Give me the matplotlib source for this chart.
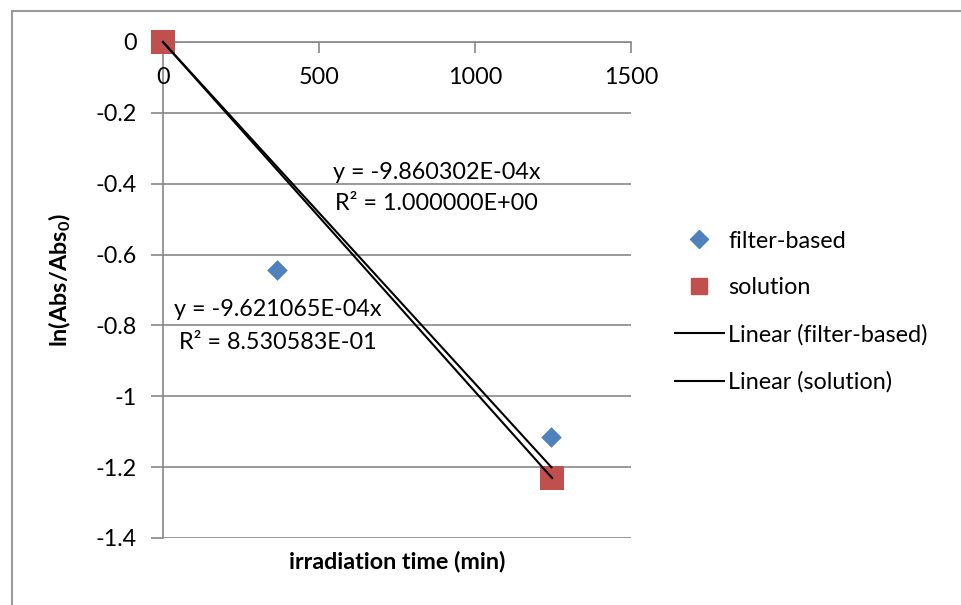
import numpy as np
import matplotlib
matplotlib.use("Agg")
import matplotlib.pyplot as plt
from matplotlib.lines import Line2D

plt.rcParams['font.family'] = ['Lato', 'DejaVu Sans']
plt.rcParams['mathtext.fontset'] = 'custom'
plt.rcParams['mathtext.rm'] = 'Lato'
plt.rcParams['mathtext.bf'] = 'Lato:bold'

# data
filter_time = [0, 365, 1245]
filter_lnabs = [0, -0.643, -1.115]
solution_time = [0, 1247]
solution_lnabs = [0, -1.2306]

filter_eq = ["y = -9.621065E-04x", "R\u00b2 = 8.530583E-01"]
solution_eq = ["y = -9.860302E-04x", "R\u00b2 = 1.000000E+00"]

x_ticks = [0, 500, 1000, 1500]
y_ticks = [0, -0.2, -0.4, -0.6, -0.8, -1, -1.2, -1.4]

FS = 16.8


def slope_through_origin(x, y):
    x = np.asarray(x, float)
    y = np.asarray(y, float)
    return (x * y).sum() / (x * x).sum()


W, H = 962, 605
fig = plt.figure(figsize=(W / 100, H / 100), dpi=100)
ax = fig.add_axes([163 / W, 1 - 538 / H, (631 - 163) / W, (538 - 42) / H])

grid_c = '#878787'
ax.set_xlim(0, 1500)
ax.set_ylim(-1.4, 0)
ax.set_yticks(y_ticks)
ax.set_yticklabels(['0', '-0.2', '-0.4', '-0.6', '-0.8', '-1', '-1.2', '-1.4'])
ax.set_xticks(x_ticks)
ax.grid(axis='y', color=grid_c, lw=1.2)
ax.set_axisbelow(True)

for s in ['right', 'bottom']:
    ax.spines[s].set_visible(False)
ax.spines['top'].set_color(grid_c)
ax.spines['left'].set_color(grid_c)
ax.spines['top'].set_linewidth(1.2)
ax.spines['left'].set_linewidth(1.2)

ax.xaxis.set_ticks_position('top')
ax.tick_params(axis='x', direction='in', length=8, color=grid_c, width=1.2,
               labeltop=False, labelbottom=False)
ax.tick_params(axis='y', direction='out', length=9, color=grid_c, width=1.2,
               labelsize=FS, pad=10)
for xt in x_ticks:
    ax.text(xt, -0.1, str(xt), ha='center', va='center', fontsize=FS)

# trendlines through origin
fs = slope_through_origin(filter_time, filter_lnabs)
ss = slope_through_origin(solution_time, solution_lnabs)
xf = np.array([0, max(filter_time)])
xs = np.array([0, max(solution_time)])
ax.plot(xf, fs * xf, color='black', lw=1.5, zorder=6, clip_on=False)
ax.plot(xs, ss * xs, color='black', lw=1.5, zorder=6, clip_on=False)

ax.scatter(filter_time, filter_lnabs, marker='D', s=110, color='#4f81bd',
           zorder=4, linewidths=0, clip_on=False)
ax.scatter(solution_time, solution_lnabs, marker='s', s=300, color='#c0504d',
           zorder=5, linewidths=0, clip_on=False)

ax.text(878, -0.367, solution_eq[0], ha='center', va='center', fontsize=FS)
ax.text(878, -0.455, solution_eq[1], ha='center', va='center', fontsize=FS)
ax.text(367, -0.756, filter_eq[0], ha='center', va='center', fontsize=FS)
ax.text(367, -0.847, filter_eq[1], ha='center', va='center', fontsize=FS)

ax.set_xlabel('irradiation time (min)', fontsize=FS, fontweight='bold')
ax.xaxis.set_label_coords(0.5, -0.025)
ax.set_ylabel('ln(Abs/Abs$_\\mathbf{0}$)', fontsize=FS, fontweight='bold')
ax.yaxis.set_label_coords((73 - 163) / (631 - 163), 0.52)

handles = [
    Line2D([], [], marker='D', ls='none', color='#4f81bd', markersize=9),
    Line2D([], [], marker='s', ls='none', color='#c0504d', markersize=11),
    Line2D([], [], color='black', lw=1.5),
    Line2D([], [], color='black', lw=1.5),
]
labels = ['filter-based', 'solution', 'Linear (filter-based)', 'Linear (solution)']
fig.legend(handles, labels, loc='upper left', bbox_to_anchor=(663 / W, 1 - 219 / H),
           frameon=False, fontsize=FS, handlelength=2.1, handletextpad=0.2,
           labelspacing=1.1, borderpad=0)

# chart area border
fig.add_artist(Line2D([12 / W, 1], [1 - 11 / H, 1 - 11 / H], color='#9a9a9a', lw=1.5))
fig.add_artist(Line2D([12 / W, 12 / W], [0, 1 - 11 / H], color='#9a9a9a', lw=1.5))

fig.savefig('out.png', dpi=100)
